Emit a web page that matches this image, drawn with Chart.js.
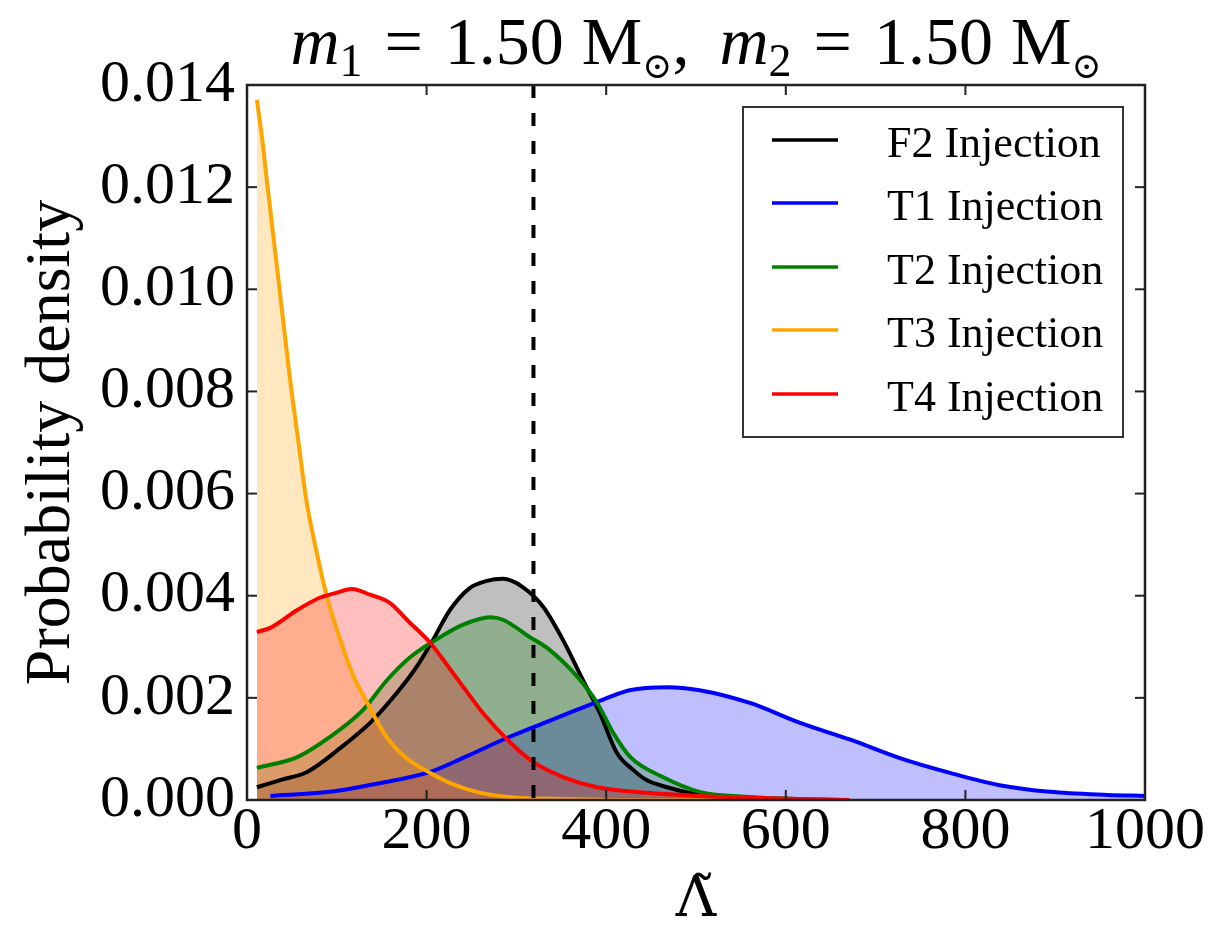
<!DOCTYPE html>
<html><head><meta charset="utf-8">
<script src="https://cdn.jsdelivr.net/npm/chart.js@4/dist/chart.umd.min.js"></script>
<style>html,body{margin:0;padding:0;background:#fff;}#wrap{width:1214px;height:928px;}</style>
</head><body><div id="wrap"><canvas id="c" width="1214" height="928"></canvas></div>
<script>
// ---- data ----
const seriesLabels = ['F2 Injection', 'T1 Injection', 'T2 Injection', 'T3 Injection', 'T4 Injection'];

const lambdaF2  = [11, 37, 67, 104, 137, 167, 189, 207, 226, 248, 267, 285, 307, 330, 352, 374, 393, 412, 430, 445, 468, 504, 560, 605];
const densityF2 = [0.00025, 0.00039, 0.00055, 0.00102, 0.00151, 0.00210, 0.00261, 0.00313, 0.00372, 0.00415, 0.00429, 0.00433, 0.00417, 0.00378, 0.00313, 0.00235, 0.00170, 0.00092, 0.00059, 0.00039, 0.00025, 0.00010, 0.00002, 0];

const lambdaT1  = [26, 92, 148, 204, 240, 285, 334, 390, 426, 468, 504, 560, 616, 672, 727, 783, 838, 894, 958, 1000];
const densityT1 = [0.00008, 0.00016, 0.00033, 0.00055, 0.00082, 0.00118, 0.00153, 0.00192, 0.00215, 0.00221, 0.00215, 0.00190, 0.00151, 0.00118, 0.00082, 0.00053, 0.00029, 0.00016, 0.00010, 0.00008];

const lambdaT2  = [11, 56, 92, 129, 156, 182, 207, 240, 271, 285, 315, 337, 368, 390, 408, 427, 463, 504, 560, 616, 671];
const densityT2 = [0.00063, 0.00084, 0.00123, 0.00176, 0.00235, 0.00280, 0.00310, 0.00343, 0.00358, 0.00353, 0.00319, 0.00294, 0.00241, 0.00190, 0.00131, 0.00084, 0.00045, 0.00016, 0.00006, 0.00002, 0];

const lambdaT3  = [11, 17, 22, 35, 48, 57, 66, 77, 89, 104, 118, 134, 154, 176, 204, 232, 260, 304, 349, 415, 600];
const densityT3 = [0.01371, 0.01293, 0.01215, 0.01019, 0.00823, 0.00705, 0.00588, 0.00490, 0.00398, 0.00313, 0.00245, 0.00190, 0.00127, 0.00084, 0.00053, 0.00029, 0.00014, 0.00004, 0.00002, 0, 0];

const lambdaT4  = [11, 26, 56, 81, 100, 117, 137, 159, 178, 204, 223, 241, 263, 290, 319, 352, 390, 445, 505, 571, 616, 671];
const densityT4 = [0.00329, 0.00337, 0.00372, 0.00396, 0.00406, 0.00413, 0.00402, 0.00386, 0.00353, 0.00308, 0.00264, 0.00221, 0.00170, 0.00118, 0.00074, 0.00045, 0.00025, 0.00014, 0.00008, 0.00004, 0.00002, 0];

const dashLambda = 319;
const xTicks = [0, 200, 400, 600, 800, 1000];
const yTicks = [0, 0.002, 0.004, 0.006, 0.008, 0.010, 0.012, 0.014];
const titleMass1 = '1.50', titleMass2 = '1.50';
const yAxisLabel = 'Probability density';
const xAxisLabel = 'Λ\u0303';

// ---- styles ----
const lineColors = ['#000000', '#0000ff', '#008000', '#ffa500', '#ff0000'];
const fillColors = ['rgba(0,0,0,0.25)', 'rgba(0,0,255,0.25)', 'rgba(0,128,0,0.25)', 'rgba(255,165,0,0.25)', 'rgba(255,0,0,0.25)'];
const SERIF = '"Liberation Serif", "DejaVu Serif", serif';

const xs = [lambdaF2, lambdaT1, lambdaT2, lambdaT3, lambdaT4];
const ys = [densityF2, densityT1, densityT2, densityT3, densityT4];

const datasets = seriesLabels.map((lab, i) => ({
  label: lab,
  data: xs[i].map((x, k) => ({x: x, y: ys[i][k]})),
  borderColor: lineColors[i],
  backgroundColor: fillColors[i],
  borderWidth: 4,
  fill: 'origin',
  pointRadius: 0,
  cubicInterpolationMode: 'monotone',
  borderJoinStyle: 'round',
  order: 4 - i
}));
datasets.push({
  label: 'dash',
  data: [{x: dashLambda, y: yTicks[yTicks.length - 1]}, {x: dashLambda, y: 0}],
  borderColor: '#000',
  borderWidth: 4,
  borderDash: [13, 15],
  fill: false,
  pointRadius: 0,
  order: -1
});

function drawTitle(ctx, cx) {
  const base = 64;
  const big = '68px ' + SERIF, it = 'italic 68px ' + SERIF, sub = '46px ' + SERIF, odot = '36px "DejaVu Serif", serif';
  const parts = [
    {t: 'm', f: it}, {t: '1', f: sub, dy: 12}, {gap: 22}, {t: '=', f: big}, {gap: 22},
    {t: titleMass1, f: big}, {gap: 18}, {t: 'M', f: big}, {t: '\u2299', f: odot, dy: 14}, {t: ',', f: big}, {gap: 30},
    {t: 'm', f: it}, {t: '2', f: sub, dy: 12}, {gap: 22}, {t: '=', f: big}, {gap: 22},
    {t: titleMass2, f: big}, {gap: 18}, {t: 'M', f: big}, {t: '\u2299', f: odot, dy: 14}
  ];
  let total = 0;
  parts.forEach(p => { if (p.gap) { p.w = p.gap; } else { ctx.font = p.f; p.w = ctx.measureText(p.t).width; } total += p.w; });
  let x = cx - total / 2;
  ctx.fillStyle = '#000';
  ctx.textBaseline = 'alphabetic';
  ctx.textAlign = 'left';
  parts.forEach(p => {
    if (!p.gap) { ctx.font = p.f; ctx.fillText(p.t, x, base + (p.dy || 0)); }
    x += p.w;
  });
}

const framePlugin = {
  id: 'frame',
  afterDraw(chart) {
    const {ctx, chartArea: a, scales: {x, y}} = chart;
    ctx.save();
    ctx.strokeStyle = '#222';
    ctx.lineWidth = 2;
    const seg = (x1, y1, x2, y2) => { ctx.beginPath(); ctx.moveTo(x1, y1); ctx.lineTo(x2, y2); ctx.stroke(); };
    xTicks.forEach(v => { const p = x.getPixelForValue(v); seg(p, a.bottom, p, a.bottom - 10); seg(p, a.top, p, a.top + 10); });
    yTicks.forEach(v => { const p = y.getPixelForValue(v); seg(a.left, p, a.left + 10, p); seg(a.right, p, a.right - 10, p); });
    ctx.lineWidth = 2.5;
    ctx.strokeRect(a.left, a.top, a.right - a.left, a.bottom - a.top);

    // legend
    const bx = 743, by = 107, bw = 380, bh = 330;
    ctx.fillStyle = '#fff';
    ctx.fillRect(bx, by, bw, bh);
    ctx.strokeStyle = '#333';
    ctx.lineWidth = 2;
    ctx.strokeRect(bx, by, bw, bh);
    const rows = [140, 203, 267, 330, 394];
    ctx.font = '44px ' + SERIF;
    ctx.textAlign = 'left';
    ctx.textBaseline = 'alphabetic';
    seriesLabels.forEach((lab, i) => {
      ctx.strokeStyle = lineColors[i];
      ctx.lineWidth = 3.5;
      seg(772, rows[i], 838, rows[i]);
      ctx.fillStyle = '#000';
      ctx.fillText(lab, 887, rows[i] + 17);
    });

    drawTitle(ctx, (a.left + a.right) / 2);
    ctx.restore();
  }
};

new Chart(document.getElementById('c'), {
  type: 'line',
  data: {datasets: datasets},
  options: {
    responsive: false,
    animation: false,
    layout: {padding: {left: 0, right: 69, top: 85, bottom: 0}},
    plugins: {legend: {display: false}, tooltip: {enabled: false}, title: {display: false}, filler: {drawTime: 'beforeDatasetsDraw'}},
    scales: {
      x: {
        type: 'linear', min: 0, max: 1000,
        grid: {display: false, drawTicks: false},
        border: {display: false},
        ticks: {stepSize: 200, maxRotation: 0, autoSkip: false, padding: -4, color: '#000', font: {family: SERIF, size: 60}, callback: v => String(v)},
        title: {display: true, text: xAxisLabel, color: '#000', font: {family: '"DejaVu Serif", serif', size: 56, lineHeight: 0.8}, padding: {top: 0, bottom: 4}},
        afterFit: s => { s.height = 128; }
      },
      y: {
        type: 'linear', min: 0, max: 0.014,
        grid: {display: false, drawTicks: false},
        border: {display: false},
        ticks: {stepSize: 0.002, padding: 12, color: '#000', font: {family: SERIF, size: 60}, callback: v => v.toFixed(3)},
        title: {display: true, text: yAxisLabel, color: '#000', font: {family: SERIF, size: 64, lineHeight: 1.2}, padding: {top: 14, bottom: 0}},
        afterFit: s => { s.width = 247; }
      }
    }
  },
  plugins: [framePlugin]
});
</script></body></html>
